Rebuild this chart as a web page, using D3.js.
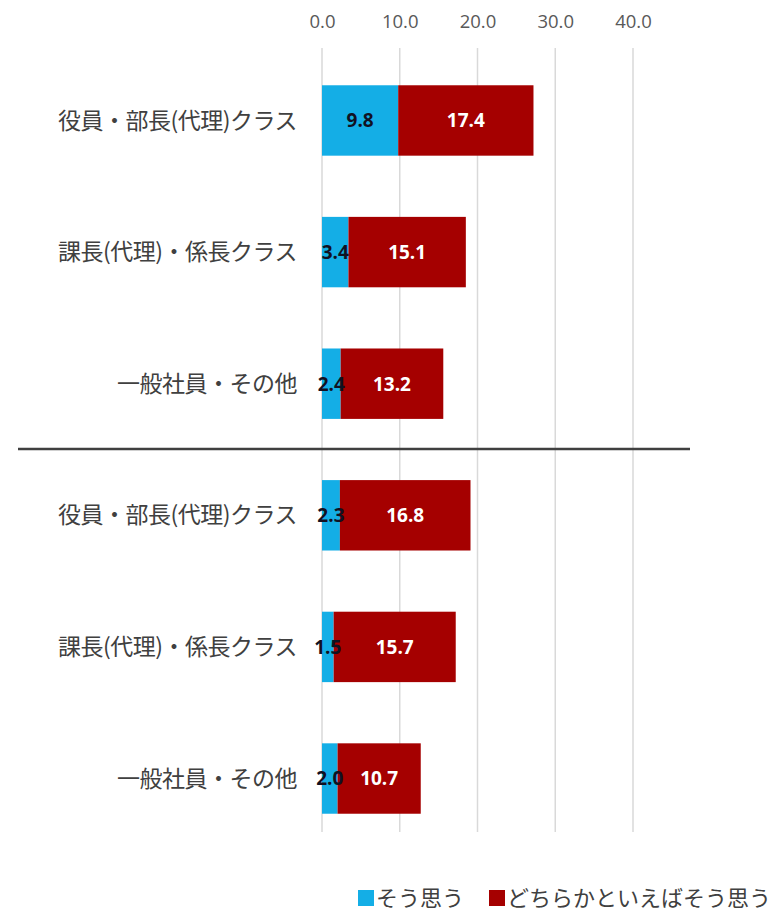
<!DOCTYPE html>
<html>
<head>
<meta charset="utf-8">
<script src="https://cdn.jsdelivr.net/npm/d3@7"></script>
<style>
  body { margin: 0; background: #fff; }
  text { font-family: "Noto Sans CJK JP", "Noto Sans", sans-serif; }
</style>
</head>
<body>
<div id="chart"></div>
<script>
var categories = ["役員・部長(代理)クラス", "課長(代理)・係長クラス", "一般社員・その他",
                  "役員・部長(代理)クラス", "課長(代理)・係長クラス", "一般社員・その他"];
var sououmou = [9.8, 3.4, 2.4, 2.3, 1.5, 2.0]; // そう思う
var dochiraka = [17.4, 15.1, 13.2, 16.8, 15.7, 10.7]; // どちらかといえばそう思う
var seriesNames = ["そう思う", "どちらかといえばそう思う"];
var seriesColors = ["#14aee6", "#a50000"];
var tickValues = [0, 10, 20, 30, 40];

var width = 778, height = 916;
var svg = d3.select("#chart").append("svg")
    .attr("width", width)
    .attr("height", height);

var rows = categories.map(function (c, i) {
    return { key: i, label: c, a: sououmou[i], b: dochiraka[i] };
});

var x = d3.scaleLinear().domain([0, 40]).range([322, 633]); // value -> px
var y = d3.scaleBand().domain(rows.map(d => d.key)).range([55, 844]).paddingInner(0.465).paddingOuter(0.23);

// gridlines
svg.append("g").selectAll("line")
    .data(tickValues)
    .enter().append("line")
    .attr("x1", d => x(d)).attr("x2", d => x(d))
    .attr("y1", 48).attr("y2", 832)
    .attr("stroke", "#d9d9d9")
    .attr("stroke-width", 1.5);

// top axis labels
var topAxis = d3.axisTop(x).tickValues(tickValues).tickFormat(d3.format(".1f")).tickSize(0);
var axisG = svg.append("g")
    .attr("transform", "translate(0,31)")
    .call(topAxis);
axisG.select(".domain").remove();
axisG.selectAll("text")
    .attr("fill", "#595959")
    .style("font-size", "18.5px")
    .style("font-family", "'Open Sans', 'Noto Sans', sans-serif");

// bars
var bars = svg.append("g");
bars.selectAll("rect.a")
    .data(rows).enter().append("rect")
    .attr("class", "a")
    .attr("x", x(0))
    .attr("y", d => y(d.key))
    .attr("width", d => x(d.a) - x(0))
    .attr("height", y.bandwidth())
    .attr("fill", seriesColors[0]);
bars.selectAll("rect.b")
    .data(rows).enter().append("rect")
    .attr("class", "b")
    .attr("x", d => x(d.a))
    .attr("y", d => y(d.key))
    .attr("width", d => x(d.a + d.b) - x(d.a))
    .attr("height", y.bandwidth())
    .attr("fill", seriesColors[1]);

// value labels
var valFont = "'Open Sans', 'Noto Sans', sans-serif";
bars.selectAll("text.a")
    .data(rows).enter().append("text")
    .attr("x", d => (x(0) + x(d.a)) / 2)
    .attr("y", d => y(d.key) + y.bandwidth() / 2)
    .attr("dy", "0.36em")
    .attr("text-anchor", "middle")
    .attr("fill", "#111122")
    .style("font-size", "19px")
    .style("font-weight", "bold")
    .style("font-family", valFont)
    .text(d => d.a.toFixed(1));
bars.selectAll("text.b")
    .data(rows).enter().append("text")
    .attr("x", d => (x(d.a) + x(d.a + d.b)) / 2)
    .attr("y", d => y(d.key) + y.bandwidth() / 2)
    .attr("dy", "0.36em")
    .attr("text-anchor", "middle")
    .attr("fill", "#ffffff")
    .style("font-size", "19px")
    .style("font-weight", "bold")
    .style("font-family", valFont)
    .text(d => d.b.toFixed(1));

// category labels
svg.append("g").selectAll("text")
    .data(rows).enter().append("text")
    .attr("x", 297)
    .attr("y", d => y(d.key) + y.bandwidth() / 2)
    .attr("dy", "0.35em")
    .attr("text-anchor", "end")
    .attr("fill", "#404040")
    .style("font-size", "23px")
    .style("letter-spacing", "-0.5px")
    .text(d => d.label);

// divider between the two groups
svg.append("line")
    .attr("x1", 18).attr("x2", 690)
    .attr("y1", 449).attr("y2", 449)
    .attr("stroke", "#404040")
    .attr("stroke-width", 2.5);

// legend
var legend = svg.append("g").attr("transform", "translate(0,898)");
var legendX = [358, 489];
seriesNames.forEach(function (name, i) {
    legend.append("rect")
        .attr("x", legendX[i]).attr("y", -8)
        .attr("width", 16).attr("height", 16)
        .attr("fill", seriesColors[i]);
    legend.append("text")
        .attr("x", legendX[i] + 18)
        .attr("y", 0)
        .attr("dy", "0.35em")
        .attr("fill", "#404040")
        .style("font-size", "22px")
        .text(name);
});
</script>
</body>
</html>
